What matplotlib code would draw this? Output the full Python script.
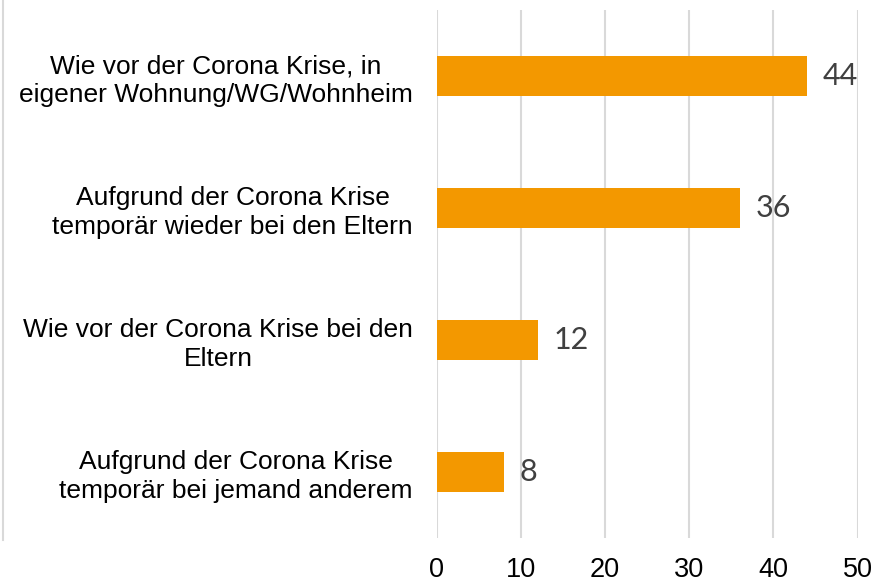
import matplotlib.pyplot as plt
from matplotlib.lines import Line2D

categories = [
    "Wie vor der Corona Krise, in\neigener Wohnung/WG/Wohnheim",
    "Aufgrund der Corona Krise\ntemporär wieder bei den Eltern",
    "Wie vor der Corona Krise bei den\nEltern",
    "Aufgrund der Corona Krise\ntemporär bei jemand anderem",
]
values = [44, 36, 12, 8]
xticks = [0, 10, 20, 30, 40, 50]

bar_color = "#F39800"
grid_color = "#D9D9D9"

fig = plt.figure(figsize=(8.75, 5.83), dpi=100)
ax = fig.add_axes([0.4989, 0.0772, 0.4811, 0.9057])

pos = list(range(len(categories)))
ax.barh(pos, values, height=0.305, color=bar_color, zorder=3)
ax.set_ylim(len(categories) - 0.5, -0.5)
ax.set_xlim(0, 50)

# Datenbeschriftungen
for p, v in zip(pos, values):
    ax.text(v + 1.85, p, str(v), va="center", ha="left",
            fontsize=22, color="#404040", family="Lato")

ax.set_yticks(pos)
ax.set_yticklabels(categories, fontsize=19, family="Liberation Sans",
                   multialignment="center", linespacing=1.25)
ax.tick_params(axis="y", length=0, pad=17)

ax.set_xticks(xticks)
ax.set_xticklabels([str(t) for t in xticks], fontsize=19.5, family="Liberation Sans")
ax.tick_params(axis="x", length=0, pad=14)

ax.grid(axis="x", color=grid_color, linewidth=1.5, zorder=0)
for s in ax.spines.values():
    s.set_visible(False)

# linke Rahmenlinie
fig.add_artist(Line2D([3 / 875, 3 / 875], [1 - 540 / 583, 1.0],
                      transform=fig.transFigure, color=grid_color, linewidth=1.5))

fig.savefig("out.png", dpi=100)
